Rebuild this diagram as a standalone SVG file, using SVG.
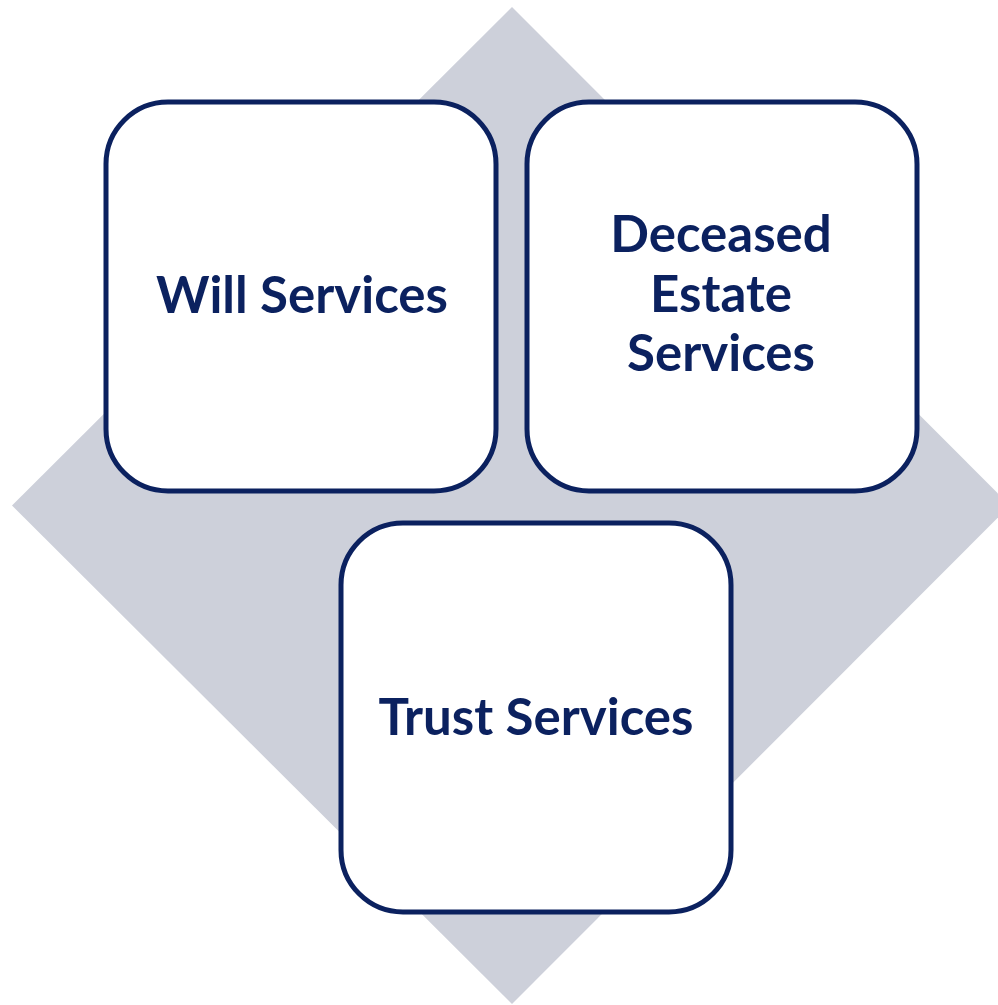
<svg xmlns="http://www.w3.org/2000/svg" width="998" height="1005" viewBox="0 0 998 1005">
<style>
.box{fill:#ffffff;stroke:#0b215f;stroke-width:5}
.lbl{font-family:Lato,"Liberation Sans",sans-serif;font-weight:bold;font-size:51px;fill:#0b215f;text-anchor:middle}
</style>
<rect width="998" height="1005" fill="#ffffff"/>
<polygon points="512,7 1010,505.5 512,1004 12,505.5" fill="#cdd0da"/>
<g id="connectors"></g>
<g id="will">
<rect class="box" x="106" y="102" width="390" height="389" rx="62" ry="62"/>
<text class="lbl" x="302" y="313">Will Services</text>
</g>
<g id="deceased">
<rect class="box" x="527" y="102" width="390" height="389" rx="62" ry="62"/>
<text class="lbl" x="721" y="252">Deceased</text>
<text class="lbl" x="721" y="312">Estate</text>
<text class="lbl" x="721" y="371">Services</text>
</g>
<g id="trust">
<rect class="box" x="341" y="523" width="390" height="389" rx="62" ry="62"/>
<text class="lbl" x="536" y="735">Trust Services</text>
</g>
</svg>
